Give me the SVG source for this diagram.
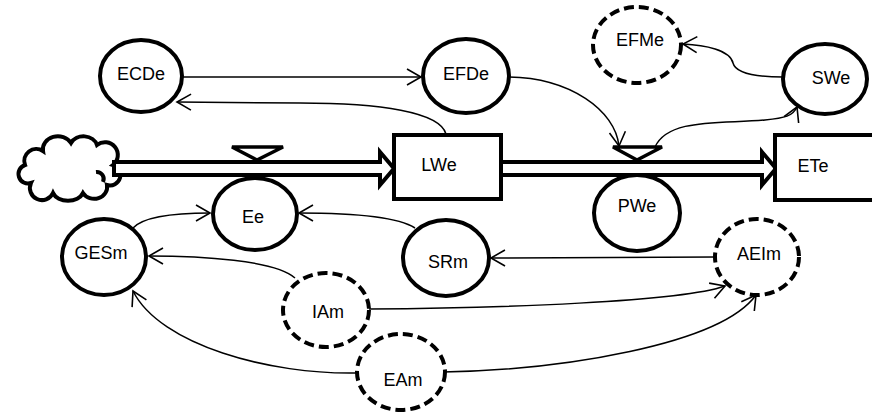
<svg xmlns="http://www.w3.org/2000/svg" width="872" height="414" viewBox="0 0 872 414">
<style>
.node{fill:#fff;stroke:#000;stroke-width:4}
.dash{stroke-dasharray:10 5}
.lbl{font-family:"Liberation Sans",Arial,sans-serif;font-size:18px;fill:#000;text-anchor:middle;dominant-baseline:central}
.conn{fill:none;stroke:#000;stroke-width:1.5;marker-end:url(#arr)}
.pipe{fill:#fff;stroke:#000;stroke-width:4;stroke-linejoin:miter}
</style>
<defs>
<marker id="arr" markerUnits="userSpaceOnUse" markerWidth="18" markerHeight="20" refX="15" refY="9" orient="auto" viewBox="0 0 18 18">
<path d="M1,1 L15,9 L1,17" fill="none" stroke="#000" stroke-width="1.6"/>
</marker>
</defs>
<rect width="872" height="414" fill="#fff"/>
<g id="cloud">
<path class="node" d="M25,165 a12,12 0 0 1 18,-14 a15,13 0 0 1 28,-8 a14,12 0 0 1 26,2 a12,12 0 0 1 16,20 a10,10 0 0 1 -6,20 a13,12 0 0 1 -24,8 a16,12 0 0 1 -30,0 a12,12 0 0 1 -22,-10 a9,9 0 0 1 -6,-18 z"/>
<path d="M96,172 a7,7 0 0 1 7,10" fill="none" stroke="#000" stroke-width="4"/>
</g>
<g id="flows">
<path class="pipe" d="M114,162 H380 V152 L394,168.5 L380,185 V175 H114 Z"/>
<path class="pipe" d="M501,162 H762 V152 L776,168.5 L762,185 V175 H501 Z"/>
<polygon class="node" style="stroke-width:3.5" points="232,147 283,147 257,160"/>
<polygon class="node" style="stroke-width:3.5" points="613,147 662,147 637,160"/>
</g>
<g id="connectors">
<path class="conn" d="M183,77 L421,77"/>
<path class="conn" d="M446,134 C440,112 380,103 300,103 L177,102"/>
<path class="conn" d="M509,77 C570,78 615,110 619,146"/>
<path class="conn" d="M655,147 C668,118 720,124 765,120 C785,118 793,116 797,107"/>
<path class="conn" d="M783,77 C760,77 736,75 733,63 C730,50 705,45 683,44"/>
<path class="conn" d="M133,228 C145,215 180,213 210,213"/>
<path class="conn" d="M415,228 C395,215 340,213 299,213"/>
<path class="conn" d="M295,278 C275,260 200,256 149,256"/>
<path class="conn" d="M358,373 C270,375 160,345 133,291"/>
<path class="conn" d="M715,257 L491,258"/>
<path class="conn" d="M369,309 C500,308 680,302 725,286"/>
<path class="conn" d="M443,372 C560,370 720,345 756,295"/>
</g>
<g id="ECDe"><ellipse class="node" cx="141" cy="76" rx="41" ry="36"/><text class="lbl" x="141" y="74">ECDe</text></g>
<g id="EFDe"><ellipse class="node" cx="466" cy="76" rx="43" ry="37"/><text class="lbl" x="466" y="74">EFDe</text></g>
<g id="EFMe"><ellipse class="node dash" cx="637" cy="45" rx="44" ry="38"/><text class="lbl" x="640" y="40">EFMe</text></g>
<g id="SWe"><ellipse class="node" cx="825" cy="79" rx="42" ry="35"/><text class="lbl" x="831" y="78">SWe</text></g>
<g id="LWe"><rect class="node" x="394" y="135" width="107" height="64"/><text class="lbl" x="439" y="165">LWe</text></g>
<g id="ETe"><rect class="node" x="775" y="135" width="120" height="65"/><text class="lbl" x="813" y="166">ETe</text></g>
<g id="Ee"><ellipse class="node" cx="255" cy="214" rx="42" ry="36"/><text class="lbl" x="253" y="217">Ee</text></g>
<g id="PWe"><ellipse class="node" cx="637" cy="213" rx="43" ry="38"/><text class="lbl" x="637" y="206">PWe</text></g>
<g id="GESm"><ellipse class="node" cx="104" cy="257" rx="42" ry="38"/><text class="lbl" x="101" y="253">GESm</text></g>
<g id="SRm"><ellipse class="node" cx="446" cy="258" rx="43" ry="38"/><text class="lbl" x="448" y="262">SRm</text></g>
<g id="AEIm"><ellipse class="node dash" cx="757" cy="257" rx="42" ry="38"/><text class="lbl" x="759" y="254">AEIm</text></g>
<g id="IAm"><ellipse class="node dash" cx="326" cy="310" rx="43" ry="37"/><text class="lbl" x="328" y="312">IAm</text></g>
<g id="EAm"><ellipse class="node dash" cx="401" cy="372" rx="44" ry="38"/><text class="lbl" x="403" y="380">EAm</text></g>
</svg>
